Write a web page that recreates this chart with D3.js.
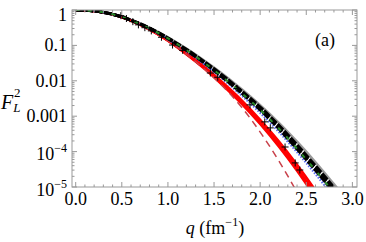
<!DOCTYPE html>
<html>
<head>
<meta charset="utf-8">
<script src="https://d3js.org/d3.v7.min.js"></script>
<style>
  body { margin: 0; background: #fff; }
</style>
</head>
<body>
<svg width="366" height="242"></svg>
<script>
// q grid shared by the curves (fm^-1)
var qGrid = [0, 0.2, 0.4, 0.6, 0.8, 1.0, 1.2, 1.4, 1.6, 1.8, 2.0, 2.2, 2.4, 2.6, 2.8, 3.0];

// log10(F_L^2)
var black1 = [0, -0.03, -0.12, -0.29, -0.52, -0.80, -1.13, -1.49, -1.89, -2.32, -2.78, -3.30, -3.87, -4.46, -5.07, -5.7];
var black2 = [0, -0.03, -0.12, -0.28, -0.51, -0.79, -1.11, -1.47, -1.86, -2.29, -2.74, -3.25, -3.81, -4.40, -5.01, -5.65];
var black3 = [0, -0.03, -0.12, -0.29, -0.52, -0.81, -1.14, -1.51, -1.92, -2.35, -2.82, -3.35, -3.93, -4.53, -5.15, -5.8];
var gray1  = [0, -0.03, -0.12, -0.28, -0.50, -0.77, -1.09, -1.44, -1.82, -2.24, -2.69, -3.18, -3.72, -4.30, -4.92, -5.55];
var blue1  = [0, -0.03, -0.12, -0.29, -0.53, -0.82, -1.16, -1.54, -1.96, -2.41, -2.90, -3.43, -4.01, -4.63, -5.28, -5.95];
var green1 = [0, -0.03, -0.12, -0.29, -0.52, -0.80, -1.13, -1.50, -1.91, -2.35, -2.82, -3.34, -3.92, -4.53, -5.17, -5.85];
var red1   = [0, -0.03, -0.12, -0.30, -0.55, -0.86, -1.23, -1.64, -2.10, -2.60, -3.16, -3.78, -4.46, -5.20, -6.0];
var red2   = [0, -0.03, -0.12, -0.30, -0.55, -0.87, -1.25, -1.67, -2.14, -2.65, -3.22, -3.85, -4.54, -5.30, -6.1];
var red3   = [0, -0.03, -0.12, -0.30, -0.55, -0.86, -1.24, -1.65, -2.12, -2.62, -3.19, -3.81, -4.50, -5.25, -6.05];
var red4   = [0, -0.03, -0.12, -0.30, -0.54, -0.85, -1.21, -1.61, -2.06, -2.55, -3.10, -3.70, -4.37, -5.10, -5.9];
var redDash = [0, -0.03, -0.12, -0.30, -0.55, -0.87, -1.25, -1.68, -2.17, -2.75, -3.45, -4.25, -5.15];

// data points (crosses)
var crossQ   = [0.49, 0.55, 0.62, 0.68, 0.75, 0.82, 0.93, 1.05, 1.16, 1.46, 1.54, 1.75, 1.89, 2.05, 2.11, 2.27, 2.38, 2.43];
var crossLog = [-0.16, -0.24, -0.33, -0.42, -0.50, -0.59, -0.77, -0.99, -1.14, -1.78, -1.90, -2.22, -2.68, -3.16, -3.33, -3.87, -4.32, -4.52];

// tick labels
var xTicks = [0, 0.5, 1.0, 1.5, 2.0, 2.5, 3.0];
var yTicks = [1, 0.1, 0.01, 0.001, 1e-4, 1e-5];
var yTickText = ["1", "0.1", "0.01", "0.001", "10|\u22124", "10|\u22125"];

var serif = "'Liberation Serif', 'Times New Roman', serif";

var svg = d3.select("svg");
var pLeft = 72, pRight = 357, pTop = 10, pBottom = 187;

var x = d3.scaleLinear().domain([-0.04, 3.05]).range([pLeft, pRight]);
var y = d3.scaleLog().domain([1e-5, 1]).range([pBottom, pTop]);

svg.append("clipPath").attr("id", "clip")
  .append("rect").attr("x", pLeft).attr("y", pTop).attr("width", pRight - pLeft).attr("height", pBottom - pTop);

var plot = svg.append("g").attr("clip-path", "url(#clip)");

function pts(vals) {
  return vals.map(function (v, i) { return [qGrid[i], Math.pow(10, v)]; });
}
var line = d3.line()
  .x(function (d) { return x(d[0]); })
  .y(function (d) { return y(d[1]); })
  .curve(d3.curveMonotoneX);

function draw(vals, color, width, dash) {
  plot.append("path")
    .attr("d", line(pts(vals)))
    .attr("fill", "none")
    .attr("stroke", color)
    .attr("stroke-width", width)
    .attr("stroke-dasharray", dash || null);
}

draw(gray1, "#9a9a9a", 2.5);
draw(red1, "#ff0000", 2.5);
draw(red2, "#ff0000", 2.5);
draw(red3, "#ff0000", 2.5);
draw(red4, "#ff0000", 2.5);
draw(redDash, "#c8404a", 1.5, "7,5");
draw(blue1, "#5a6cf0", 2.5, "1.5,1.5");
draw(black1, "#000", 3, "8,1.5");
draw(black2, "#000", 3, "8,1.5");
draw(black3, "#000", 3, "8,1.5");
draw(green1, "#2a8a2a", 2, "4,8");

// crosses
var cs = 3.5;
plot.selectAll("path.cross")
  .data(crossQ)
  .enter()
  .append("path")
  .attr("class", "cross")
  .attr("d", function (d, i) {
    var cx = x(d), cy = y(Math.pow(10, crossLog[i]));
    return "M" + (cx - cs) + "," + cy + "H" + (cx + cs) + "M" + cx + "," + (cy - cs) + "V" + (cy + cs);
  })
  .attr("stroke", "#000")
  .attr("stroke-width", 1);

// frame
var frame = svg.append("g").attr("stroke", "#999").attr("stroke-width", 1).attr("fill", "none");
frame.append("rect").attr("x", pLeft).attr("y", pTop).attr("width", pRight - pLeft).attr("height", pBottom - pTop);

// x ticks
var xMinor = d3.range(0, 31).map(function (i) { return i / 10; });
xMinor.forEach(function (t, i) {
  var len = (i % 5 === 0) ? 5 : 2.5;
  frame.append("line").attr("x1", x(t)).attr("x2", x(t)).attr("y1", pBottom).attr("y2", pBottom - len);
  frame.append("line").attr("x1", x(t)).attr("x2", x(t)).attr("y1", pTop).attr("y2", pTop + len);
});
// y ticks
for (var e = -5; e <= 0; e++) {
  for (var m = 1; m <= 9; m++) {
    var v = m * Math.pow(10, e);
    if (v > 1) break;
    var len = (m === 1) ? 5 : 2.5;
    frame.append("line").attr("x1", pLeft).attr("x2", pLeft + len).attr("y1", y(v)).attr("y2", y(v));
    frame.append("line").attr("x1", pRight).attr("x2", pRight - len).attr("y1", y(v)).attr("y2", y(v));
  }
}

// tick labels
svg.append("g").selectAll("text")
  .data(xTicks)
  .enter()
  .append("text")
  .attr("x", function (d) { return x(d); })
  .attr("y", 205)
  .attr("text-anchor", "middle")
  .attr("font-family", serif)
  .attr("font-size", 18)
  .text(function (d) { return d.toFixed(1); });

var yl = svg.append("g").selectAll("text")
  .data(yTicks)
  .enter()
  .append("text")
  .attr("x", 67)
  .attr("y", function (d, i) {
    if (i === 0) return y(d) + 11;
    if (i >= 4) return y(d) + 8.5;
    return y(d) + 6;
  })
  .attr("text-anchor", "end")
  .attr("font-family", serif)
  .attr("font-size", 18);
yl.each(function (d, i) {
  var parts = yTickText[i].split("|");
  var t = d3.select(this);
  t.append("tspan").text(parts[0]);
  if (parts[1]) {
    t.append("tspan").attr("dy", -8).attr("font-size", 12).text(parts[1]);
  }
});

// axis titles
var fl = svg.append("text").attr("x", 1).attr("y", 109).attr("font-family", serif).attr("font-size", 20);
fl.append("tspan").attr("font-style", "italic").text("F");
fl.append("tspan").attr("dy", 3).attr("font-style", "italic").attr("font-size", 13).text("L");
svg.append("text").attr("x", 14).attr("y", 97).attr("font-family", serif).attr("font-size", 13).text("2");

var xl = svg.append("text").attr("x", 215).attr("y", 234).attr("text-anchor", "middle")
  .attr("font-family", serif).attr("font-size", 18);
xl.append("tspan").attr("font-style", "italic").text("q");
xl.append("tspan").text(" (fm");
xl.append("tspan").attr("dy", -8).attr("font-size", 12).text("\u22121");
xl.append("tspan").attr("dy", 8).text(")");

svg.append("text").attr("x", 325).attr("y", 46).attr("text-anchor", "middle")
  .attr("font-family", serif).attr("font-size", 18).text("(a)");
</script>
</body>
</html>
